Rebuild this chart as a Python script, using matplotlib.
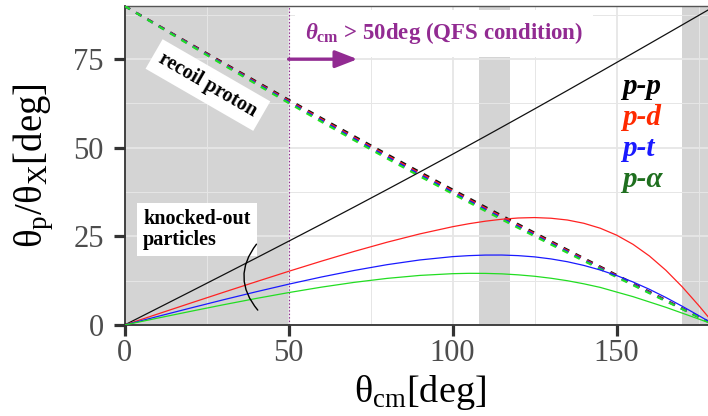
import matplotlib
matplotlib.use("Agg")
import matplotlib.pyplot as plt
from matplotlib.ticker import FixedLocator

plt.rcParams['font.family'] = ['Liberation Serif', 'DejaVu Serif']
plt.rcParams['mathtext.fontset'] = 'custom'
plt.rcParams['mathtext.rm'] = 'Liberation Serif'
plt.rcParams['mathtext.it'] = 'Liberation Serif:italic:bold'
plt.rcParams['mathtext.bf'] = 'Liberation Serif:bold'
plt.rcParams['lines.scale_dashes'] = False

# ---- data ----
# recoil proton (dashed) sampling
theta_cm = [0, 10, 20, 30, 40, 50, 60, 70, 80, 90, 100, 110, 120, 130, 140, 150, 160, 170, 175, 180]
rp_pp = [90, 84.67, 79.35, 74.06, 68.80, 63.57, 58.39, 53.26, 48.18, 43.17, 38.21, 33.30, 28.44, 23.63, 18.85, 14.11, 9.39, 4.69, 2.35, 0]
rp_pd = [90, 84.60, 79.21, 73.86, 68.54, 63.26, 58.04, 52.88, 47.79, 42.77, 37.82, 32.92, 28.09, 23.32, 18.59, 13.91, 9.25, 4.62, 2.31, 0]
rp_pt = [90, 84.53, 79.08, 73.66, 68.29, 62.95, 57.69, 52.51, 47.40, 42.37, 37.43, 32.55, 27.74, 23.01, 18.34, 13.71, 9.12, 4.55, 2.28, 0]
rp_pa = [90, 84.47, 78.94, 73.46, 68.03, 62.65, 57.35, 52.13, 47.00, 41.97, 37.03, 32.17, 27.40, 22.71, 18.08, 13.51, 8.98, 4.49, 2.25, 0]

# knocked-out particles (solid) sampling
theta_ko = [0, 10, 20, 30, 40, 50, 60, 70, 80, 90, 100, 105, 110, 115, 120, 125, 130, 135,
            140, 145, 150, 155, 160, 165, 170, 175, 180]
ko_pp = [0, 4.69, 9.39, 14.11, 18.85, 23.63, 28.44, 33.30, 38.21, 43.17, 48.18, 50.72, 53.26, 55.82,
         58.39, 60.97, 63.57, 66.17, 68.80, 71.42, 74.06, 76.70, 79.35, 82.01, 84.67, 87.34, 90.0]
ko_pd = [0, 3.07, 6.14, 9.18, 12.18, 15.14, 18.01, 20.76, 23.35, 25.70, 27.73, 28.58, 29.29, 29.84,
         30.19, 30.31, 30.12, 29.62, 28.70, 27.31, 25.35, 22.76, 19.47, 15.46, 10.77, 5.54, 0]
ko_pt = [0, 2.39, 4.76, 7.09, 9.35, 11.51, 13.54, 15.39, 17.02, 18.35, 19.29, 19.57, 19.73, 19.74,
         19.57, 19.22, 18.64, 17.85, 16.81, 15.52, 13.96, 12.14, 10.07, 7.77, 5.29, 2.68, 0]
ko_pa = [0, 1.93, 3.83, 5.69, 7.47, 9.14, 10.68, 12.03, 13.15, 13.99, 14.48, 14.58, 14.56, 14.43,
         14.15, 13.75, 13.19, 12.49, 11.62, 10.61, 9.30, 8.00, 6.50, 5.00, 3.35, 1.70, 0]

reactions = ["p-p", "p-d", "p-t", "p-\u03b1"]
line_colors = ["#111111", "#ff2222", "#1a1aff", "#22dd22"]
label_colors = ["#000000", "#ff2a00", "#1a1aff", "#1f6f1f"]
shade_spans = [(0, 50), (108, 117.5), (170, 180)]
x_ticks = [0, 50, 100, 150]
y_ticks = [0, 25, 50, 75]
purple = "#922b92"

fig = plt.figure(figsize=(7.08, 4.16), dpi=100)
ax = fig.add_axes([0.176, 0.21875, 0.8339, 0.7668])
ax.set_xlim(0, 180)
ax.set_ylim(0, 90)

# shaded regions
for a, b in shade_spans:
    ax.axvspan(a, b, color="#d4d4d4", lw=0, zorder=0.1)

# grid
ax.set_axisbelow(True)
ax.xaxis.set_major_locator(FixedLocator(x_ticks))
ax.yaxis.set_major_locator(FixedLocator(y_ticks))
ax.xaxis.set_minor_locator(FixedLocator([25, 75, 125, 175]))
ax.yaxis.set_minor_locator(FixedLocator([12.5, 37.5, 62.5, 87.5]))
ax.grid(which="major", color="#e6e6e6", lw=1.3)
ax.grid(which="minor", color="#e6e6e6", lw=0.7)

# dotted vertical line at 50
ax.axvline(50, color=purple, lw=0.8, ls=(0, (1, 1.5)), zorder=1.5)

# recoil protons (dashed)
for ys, c in zip([rp_pp, rp_pd, rp_pt, rp_pa], line_colors):
    ax.plot(theta_cm, ys, color=c, lw=1.6, dashes=(4.5, 5.0), zorder=3)

# knocked-out (solid)
for ys, c in zip([ko_pp, ko_pd, ko_pt, ko_pa], line_colors):
    ax.plot(theta_ko, ys, color=c, lw=0.9, zorder=3)

# legend-like labels
for i, (r, c) in enumerate(zip(reactions, label_colors)):
    ax.text(151.6, 65.3 - i * 8.8, r, color=c, fontsize=21, fontweight="bold",
            fontstyle="italic", ha="left", va="baseline", zorder=6)

# annotations
ax.text(25.4, 67.7, "recoil proton", rotation=-30, rotation_mode="anchor",
        ha="center", va="center", fontsize=14.5, fontweight="bold", zorder=6,
        bbox=dict(boxstyle="square,pad=0.35", fc="white", ec="none"))
ax.text(22.0, 27.0, "knocked-out\nparticles", ha="center", va="center",
        multialignment="left", fontsize=14.5, fontweight="bold", linespacing=1.05,
        zorder=6, bbox=dict(boxstyle="square,pad=0.3", fc="white", ec="none"))
ax.annotate("", xy=(40.6, 4.2), xytext=(40.2, 22.8),
            arrowprops=dict(arrowstyle="-", color="black", lw=1.0,
                            connectionstyle="arc3,rad=0.4", shrinkA=0, shrinkB=0),
            zorder=6)
ax.text(97.4, 82.3, "$\\mathit{\u03b8}_{\\mathbf{cm}}$ > 50deg (QFS condition)",
        ha="center", va="center", fontsize=16.5, fontweight="bold", color=purple,
        zorder=6, bbox=dict(boxstyle="square,pad=0.45", fc="white", ec="none"))
ax.annotate("", xy=(71, 75), xytext=(50, 75),
            arrowprops=dict(arrowstyle="-|>,head_length=0.9,head_width=0.35",
                            color=purple, lw=2.4, mutation_scale=15,
                            shrinkA=0, shrinkB=0), zorder=6)

# axes styling
for s in ["left", "bottom"]:
    ax.spines[s].set_color("#333333")
    ax.spines[s].set_linewidth(1.3)
ax.spines["top"].set_color("#555555")
ax.spines["top"].set_linewidth(1.0)
ax.spines["right"].set_visible(False)
ax.tick_params(which="major", length=8, width=2.3, color="#333333",
               labelsize=22, labelcolor="#4d4d4d")
ax.tick_params(axis="x", pad=2)
ax.tick_params(axis="y", pad=7)
ax.tick_params(which="minor", length=0)

ax.set_xlabel("\u03b8$_{\\mathrm{cm}}$[deg]", fontsize=27.5)
ax.set_ylabel("\u03b8$_{\\mathrm{p}}$/\u03b8$_{\\mathrm{X}}$[deg]", fontsize=28)
ax.xaxis.set_label_coords(0.5, -0.15)
ax.yaxis.set_label_coords(-0.117, 0.5)

fig.savefig("out.png", dpi=100)
